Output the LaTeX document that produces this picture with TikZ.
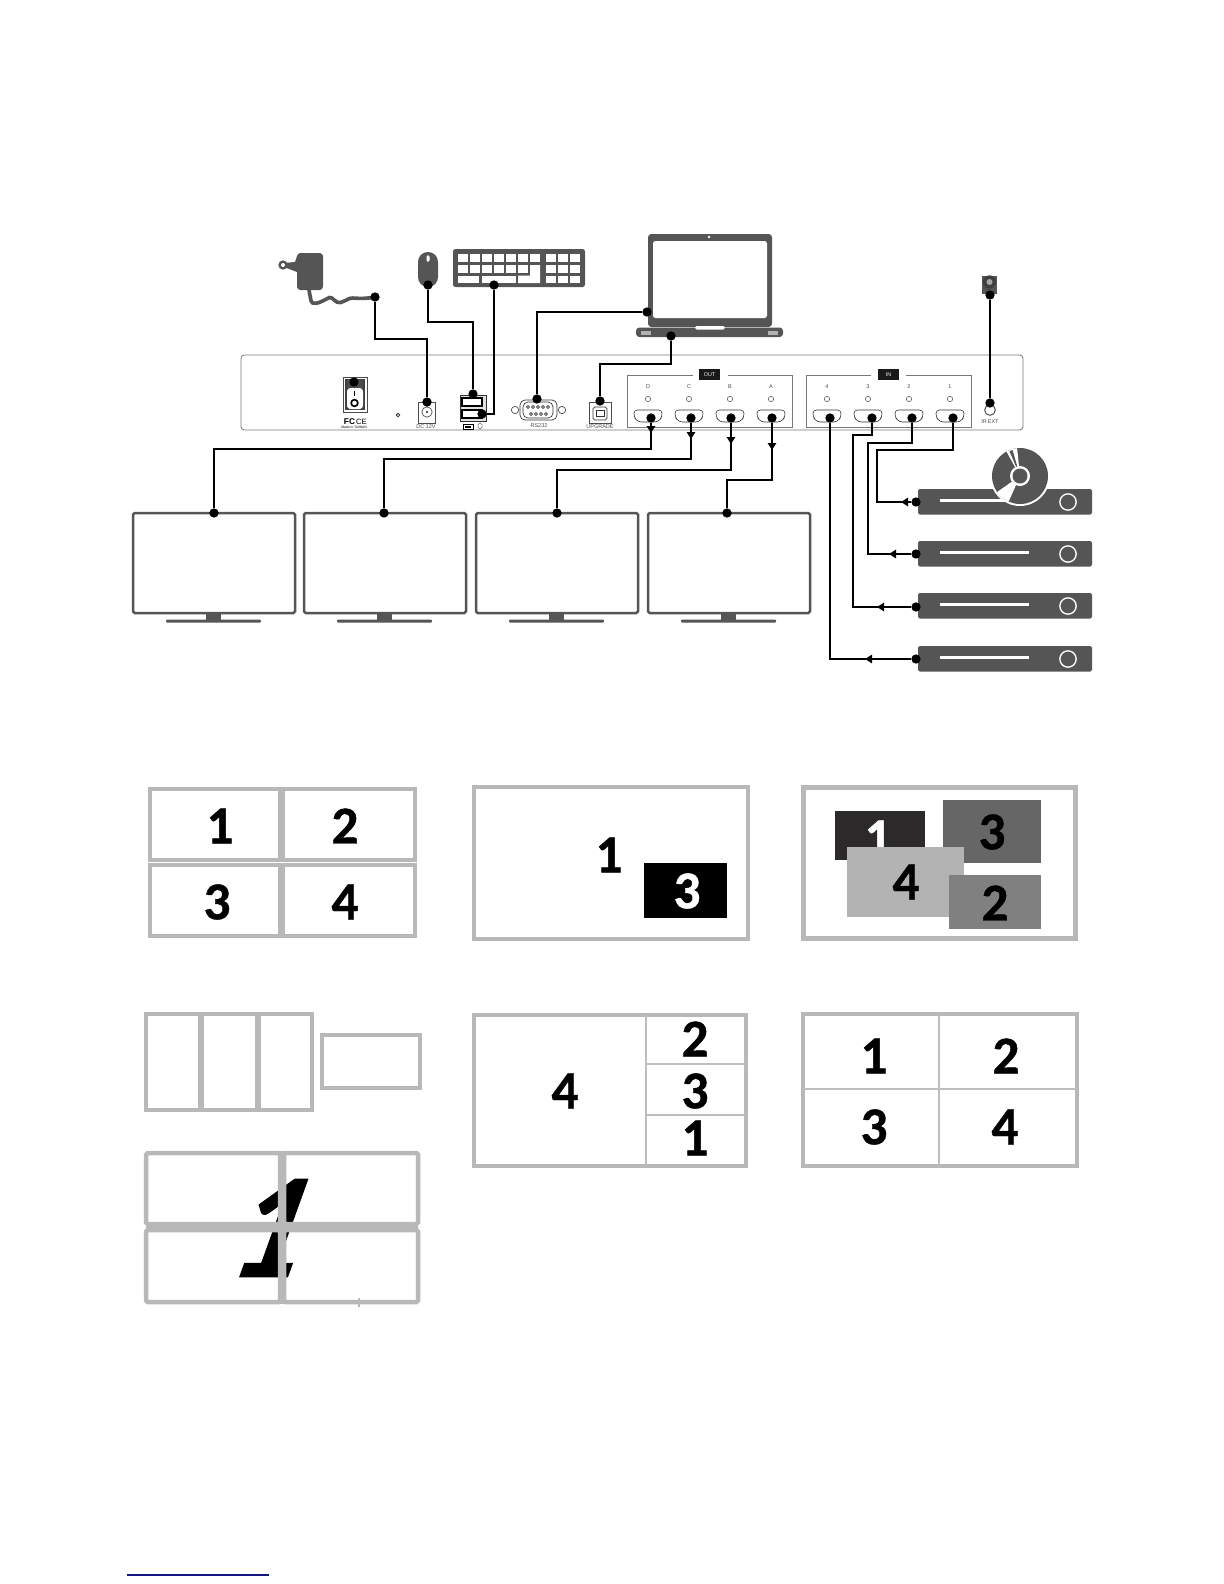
\documentclass[tikz,border=0pt]{standalone}
\usepackage{fontspec}
\setmainfont{Carlito}
\setsansfont{Liberation Sans}
\newfontfamily\heavyfont{Carlito}[BoldFeatures={FakeBold=0.8}]
\usetikzlibrary{arrows.meta, calc}
\definecolor{devgray}{RGB}{85, 85, 85}
\definecolor{gridgray}{RGB}{184, 184, 184}
\definecolor{thingray}{RGB}{190, 190, 190}
\definecolor{panelline}{RGB}{120, 120, 120}
\definecolor{winone}{RGB}{43, 41, 41}
\definecolor{winthree}{RGB}{102, 102, 102}
\definecolor{winfour}{RGB}{179, 179, 179}
\definecolor{wintwo}{RGB}{128, 128, 128}
\definecolor{footblue}{RGB}{20, 20, 130}
\tikzset{
  wire/.style={line width=1.5pt, color=black},
  pin/.style={circle, fill=black, inner sep=0pt, minimum size=5.6pt},
  flow/.style={-{Triangle[length=4.2pt, width=5pt]}, line width=1.2pt, color=black},
  tv/.style={draw=devgray, line width=1.5pt, rounded corners=1pt, fill=white},
  player/.style={fill=devgray, rounded corners=1pt},
  hdmi/.style={draw=black!80, line width=0.35pt, rounded corners=2pt, fill=white},
  tinylabel/.style={font=\sffamily\fontsize{3.3}{3.3}\selectfont, text=black!70, inner sep=0pt},
  taglabel/.style={fill=black!90, text=white, font=\sffamily\fontsize{3.2}{3.2}\selectfont, inner sep=0pt, minimum width=12.5pt, minimum height=6.5pt},
  screen/.style={draw=gridgray, line width=2.7pt, fill=white},
  wallscreen/.style={draw=gridgray, line width=2.7pt, rounded corners=1pt},
  slimscreen/.style={draw=gridgray, line width=2pt, fill=white},
  digit/.style={font=\heavyfont\bfseries\fontsize{32}{32}\selectfont, inner sep=0pt},
  thinline/.style={draw=thingray, line width=0.8pt},
}
\begin{document}
\begin{tikzpicture}[x=0.6pt, y=-0.6pt]
  \useasboundingbox (0,0) rectangle (1224,1584);

  % rear panel
  \draw[panelline, line width=0.5pt, rounded corners=2pt, fill=white] (241,355) rectangle (1023,430);
  \draw[panelline, line width=0.4pt] (693,375) -| (627,427) -| (792,375) -- (728,375);
  \draw[panelline, line width=0.4pt] (871,375) -| (806,427) -| (971,375) -- (906,375);
  \node[taglabel] (outtag) at (709.5,374.5) {OUT};
  \node[taglabel] (intag) at (888.5,374.5) {IN};
  \foreach \px/\name in {648/D, 689/C, 730/B, 771/A, 827/4, 868/3, 909/2, 950/1} {
    \node[tinylabel] (lab\name) at (\px,387) {\name};
    \node[draw=black!75, line width=0.3pt, circle, inner sep=0pt, minimum size=3.2pt] (led\name) at (\px,399) {};
    \draw[hdmi] (\px-14,410) -- (\px+14,410) -- (\px+14,417) -- (\px+10,422) -- (\px-10,422) -- (\px-14,417) -- cycle;
  }

  % power switch and jacks
  \draw[fill=white, draw=black!70, line width=0.4pt] (343,377) rectangle (367,412);
  \fill[black!75] (345,379) rectangle (365,410);
  \fill[white, rounded corners=2pt] (347,388) rectangle (363,409);
  \fill[black!70] (347,380) rectangle (363,388);
  \draw[black, line width=0.6pt] (354.5,391) -- (354.5,396);
  \draw[black, line width=1pt] (354.5,403) circle (2pt);
  \node[font=\sffamily\bfseries\fontsize{5}{5}\selectfont, inner sep=0pt] (fcmark) at (349.5,421.5) {FC};
  \node[font=\sffamily\fontsize{4.6}{4.6}\selectfont, inner sep=0pt] (cemark) at (361.5,421.5) {CE};
  \node[font=\sffamily\fontsize{2}{2}\selectfont, inner sep=0pt] (madein) at (354,427.5) {Made in TAIWAN};
  \node[draw=black!80, line width=0.5pt, circle, inner sep=0pt, minimum size=2.2pt] (resetkey) at (398,415) {};

  \draw[black!70, line width=0.4pt] (418,402) rectangle (435,423);
  \draw[black!70, line width=0.4pt] (427,412) circle (3.1pt);
  \fill[black!70] (427,412) circle (0.8pt);
  \node[tinylabel] (dclab) at (426,427) {DC 12V};

  \draw[black!80, line width=0.4pt, fill=black!12] (460,395) rectangle (486,421);
  \foreach \py in {398,410} {
    \draw[black, line width=0.7pt, fill=white] (462,\py) rectangle (482,\py+8);
  }
  \draw[black, line width=0.4pt] (463,424) rectangle (473,429);
  \fill[black] (465,425.5) rectangle (471,428);
  \draw[black!60, line width=0.3pt, rounded corners=1pt] (478,423) rectangle (482,429);

  \draw[black!80, line width=0.4pt, rounded corners=3pt] (520,400) rectangle (557,420);
  \draw[black!80, line width=0.4pt, rounded corners=3pt] (523,402) rectangle (553,418);
  \foreach \sx in {515,562} {
    \draw[black!70, line width=0.4pt] (\sx,410) circle (2.2pt);
  }
  \foreach \sx in {528,533,538,543,548} {
    \draw[black, line width=0.3pt] (\sx,407) circle (0.9pt);
  }
  \foreach \sx in {531,536,541,546} {
    \draw[black, line width=0.3pt] (\sx,414) circle (0.9pt);
  }
  \node[tinylabel] (rslab) at (539,426) {RS232};

  \draw[black!70, line width=0.4pt] (589,402) rectangle (611,423);
  \draw[black!80, line width=0.4pt, rounded corners=1pt] (593,407) rectangle (607,420);
  \draw[black!80, line width=0.4pt] (596,410) rectangle (604,416);
  \node[tinylabel] (uplab) at (600,427) {UPGRADE};

  \draw[black!80, line width=0.5pt] (990,410) circle (3.2pt);
  \node[tinylabel] (extlab) at (990,422) {IR\,EXT};

  % adapter
  \fill[devgray, rounded corners=2pt] (297,253) -- (323,253) -- (323,290) -- (297,290) -- cycle;
  \fill[devgray] (284,263) -- (295,262) -- (297,256) -- (297,272) -- (284,267) -- cycle;
  \fill[devgray] (283,265) circle (2.8pt);
  \fill[white] (283,265) circle (1.2pt);
  \draw[devgray, line width=2.2pt, rounded corners=3pt] (309,290) -- (310,296)
    .. controls (312,305) and (318,303) .. (325,300)
    .. controls (332,296) and (336,304) .. (345,301)
    .. controls (352,297) and (360,300) .. (375,297);

  % mouse
  \fill[devgray, rounded corners=5.9pt] (418,252) rectangle (438,287);
  \fill[white, rounded corners=1pt] (426.5,255) rectangle (429.5,262);

  % keyboard
  \fill[devgray, rounded corners=1.5pt] (453,249) rectangle (585,287);
  \foreach \kx in {458,470,482,494,506,518,530} {
    \fill[white] (\kx,254) rectangle (\kx+10,261.5);
  }
  \foreach \kx in {458,470,482,494,506,518} {
    \fill[white] (\kx,265) rectangle (\kx+10,272.5);
  }
  \fill[white] (458,275.5) rectangle (479,283);
  \fill[white] (482,275.5) rectangle (516,283);
  \fill[white] (530,265) -- (540,265) -- (540,283) -- (518,283) -- (518,275.5) -- (530,275.5) -- cycle;
  \foreach \kx in {546,558,570} {
    \foreach \ky in {254,265,275.5} {
      \fill[white] (\kx,\ky) rectangle (\kx+9.5,\ky+7.5);
    }
  }

  % laptop
  \fill[devgray, rounded corners=2pt] (648,234) rectangle (772,327);
  \fill[white, rounded corners=1.5pt] (653,241) rectangle (767,318);
  \fill[white] (709,237) circle (0.8pt);
  \fill[devgray, rounded corners=2pt] (636,327.5) rectangle (783,337);
  \fill[white, rounded corners=1pt] (695,326) rectangle (725,329.5);
  \fill[black!30] (641,331) rectangle (651,335);
  \fill[black!30] (768,331) rectangle (778,335);

  % ir sensor
  \fill[devgray] (982,276) rectangle (997,294);
  \fill[black!75] (989.5,282) circle (4pt);
  \fill[black!35] (989.5,282) circle (1.8pt);

  % monitors
  \foreach \mx/\name in {133/tva, 304/tvb, 476/tvc, 648/tvd} {
    \draw[tv] (\mx,513) rectangle (\mx+162,613);
    \fill[devgray] (\mx+73,613) rectangle (\mx+88,620);
    \fill[devgray, rounded corners=0.6pt] (\mx+33,619.5) rectangle (\mx+128,622.5);
  }

  % source players
  \foreach \py in {489,541,593,646} {
    \fill[player] (918,\py) rectangle (1092,\py+25.5);
    \fill[white] (940,\py+9.5) rectangle (1029,\py+13);
    \draw[white, line width=0.8pt] (1068,\py+13) circle (4.9pt);
  }
  \fill[white] (1020,476) circle (30);
  \fill[devgray] (1020,476) circle (28);
  \fill[white] (1020,476) -- ++(114:28) arc (114:145:28) -- cycle;
  \fill[white] (1020,476) -- ++(-119:28) arc (-119:-96:28) -- cycle;
  \fill[devgray] (1020,476) -- ++(-113:27) arc (-113:-106:27) -- cycle;
  \fill[white] (1020,476) circle (10);
  \fill[devgray] (1020,476) circle (7.5);

  % connector ends
  \node[pin] (adapterpin) at (375,297) {};
  \node[pin] (dcpin) at (427,402) {};
  \node[pin] (mousepin) at (428,285) {};
  \node[pin] (usbtop) at (473,394) {};
  \node[pin] (keypin) at (494,285) {};
  \node[pin] (usbbot) at (482,414) {};
  \node[pin] (comport) at (537,399) {};
  \node[pin] (laptopcom) at (647,312) {};
  \node[pin] (upport) at (600,401) {};
  \node[pin] (laptopusb) at (671,336) {};
  \node[pin] (irsensor) at (990,295) {};
  \node[pin] (irport) at (990,403) {};
  \node[pin] (switchpin) at (354,382) {};
  \foreach \px/\name in {651/outd, 691/outc, 731/outb, 772/outa, 830/inf, 872/inc, 912/inb, 953/ina} {
    \node[pin] (\name) at (\px,418) {};
  }
  \foreach \px/\name in {214/tva, 384/tvb, 557/tvc, 727/tvd} {
    \node[pin] (\name) at (\px,513) {};
  }
  \foreach \py/\name in {502/srca, 554/srcb, 607/srcc, 659/srcd} {
    \node[pin] (\name) at (916,\py) {};
  }

  % top connectors
  \draw[wire] (adapterpin) |- (427,339) -- (dcpin);
  \draw[wire] (mousepin) |- (473,322) -- (usbtop);
  \draw[wire] (keypin) |- (usbbot);
  \draw[wire] (comport) |- (laptopcom);
  \draw[wire] (upport) |- (671,364) -- (laptopusb);
  \draw[wire] (irsensor) -- (irport);

  % outputs
  \draw[wire] (outd) |- (214,449) -- (tva);
  \draw[wire] (outc) |- (384,459) -- (tvb);
  \draw[wire] (outb) |- (557,470) -- (tvc);
  \draw[wire] (outa) |- (727,480) -- (tvd);
  \draw[flow] (outd) -- (651,433);
  \draw[flow] (outc) -- (691,439);
  \draw[flow] (outb) -- (731,444);
  \draw[flow] (outa) -- (772,450);

  % inputs
  \draw[wire] (ina) |- (877,450) |- (srca);
  \draw[wire] (inb) |- (868,443) |- (srcb);
  \draw[wire] (inc) |- (853,435) |- (srcc);
  \draw[wire] (inf) |- (srcd);
  \draw[flow] (srca) -- (901,502);
  \draw[flow] (srcb) -- (889,554);
  \draw[flow] (srcc) -- (877,607);
  \draw[flow] (srcd) -- (865,659);

  % layout: four panels
  \draw[screen] (150,789) rectangle (280,860);
  \draw[screen] (283,789) rectangle (415,860);
  \draw[screen] (150,865) rectangle (280,936);
  \draw[screen] (283,865) rectangle (415,936);
  \node[digit] (quadone) at (220,826) {1};
  \node[digit] (quadtwo) at (345,826) {2};
  \node[digit] (quadthree) at (217,902) {3};
  \node[digit] (quadfour) at (345,902) {4};

  % layout: picture in picture
  \draw[screen] (474,787) rectangle (748,939);
  \node[digit] (pipone) at (609,855) {1};
  \fill[black] (644,863) rectangle (727,918);
  \node[digit, text=white] (pipthree) at (687,891) {3};

  % layout: overlapping windows
  \draw[screen] (803.5,787.5) rectangle (1075.5,938.5);
  \fill[winone] (835,811) rectangle (925,860);
  \node[digit, text=white] (winlabone) at (878,838) {1};
  \fill[winthree] (943,800) rectangle (1041,863);
  \node[digit] (winlabthree) at (992,832) {3};
  \fill[winfour] (847,847) rectangle (964,917);
  \node[digit] (winlabfour) at (906,882) {4};
  \fill[wintwo] (949,875) rectangle (1041,929);
  \node[digit] (winlabtwo) at (995,903) {2};

  % layout: split wall
  \draw[slimscreen] (146,1014) rectangle (200,1110);
  \draw[slimscreen] (202,1014) rectangle (257,1110);
  \draw[slimscreen] (259,1014) rectangle (312,1110);
  \draw[slimscreen] (322,1035) rectangle (420,1088);

  % layout: stretched across wall
  \node[font=\heavyfont\bfseries\fontsize{90}{90}\selectfont, inner sep=0pt, xslant=0.36, xscale=0.9] (wallone) at (276,1228) {1};
  \fill[gridgray] (279,1151) rectangle (285,1304);
  \fill[gridgray] (146,1223.5) rectangle (418,1231);
  \draw[wallscreen] (146,1153) rectangle (280,1224);
  \draw[wallscreen] (284,1153) rectangle (418,1224);
  \draw[wallscreen] (146,1230) rectangle (280,1302);
  \draw[wallscreen] (284,1230) rectangle (418,1302);
  \draw[gridgray, line width=0.8pt] (359,1298) -- (359,1307);

  % layout: one large three small
  \draw[screen] (474,1015) rectangle (746,1166);
  \draw[thinline] (646,1015) -- (646,1166);
  \draw[thinline] (646,1064) -- (746,1064);
  \draw[thinline] (646,1115) -- (746,1115);
  \node[digit] (sidefour) at (565,1091) {4};
  \node[digit] (sidetwo) at (695,1039) {2};
  \node[digit] (sidethree) at (695,1091) {3};
  \node[digit] (sideone) at (695,1138) {1};

  % layout: equal grid
  \draw[screen] (803,1014) rectangle (1077,1166);
  \draw[thinline] (939,1014) -- (939,1166);
  \draw[thinline] (803,1089) -- (1077,1089);
  \node[digit] (gridone) at (874,1056) {1};
  \node[digit] (gridtwo) at (1006,1056) {2};
  \node[digit] (gridthree) at (874,1127) {3};
  \node[digit] (gridfour) at (1005,1127) {4};

  % footer rule
  \draw[footblue, line width=0.7pt] (127,1575) -- (269,1575);
\end{tikzpicture}
\end{document}
